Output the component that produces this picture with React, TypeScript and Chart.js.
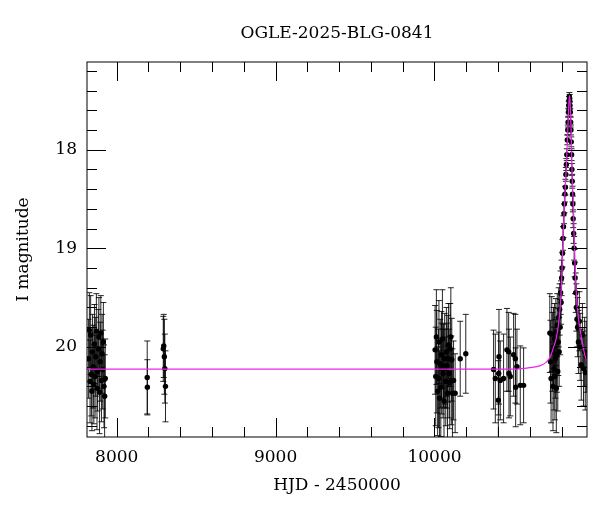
import React, { useEffect, useRef } from 'react';
import { Chart, registerables } from 'chart.js';

Chart.register(...registerables);

const TITLE = 'OGLE-2025-BLG-0841';
const X_TITLE = 'HJD - 2450000';
const Y_TITLE = 'I magnitude';

const X_MIN = 7813;
const X_MAX = 10960;
const Y_MIN = 17.11;
const Y_MAX = 20.914;

const X_MAJOR_TICKS = [8000, 9000, 10000];
const X_MINOR_STEP = 200;
const Y_MAJOR_TICKS = [18, 19, 20];
const Y_MINOR_STEP = 0.2;

// Observations: HJD - 2450000, I magnitude, error
const obsT = [
  7822, 7828, 7832, 7836, 7840, 7844, 7848, 7852, 7856, 7860, 7864, 7868, 7872, 7876, 7880, 7884, 7888, 7892, 7896, 7900, 7904, 7908, 7912, 7916, 7920, 7924, 7928,
  8192, 8193,
  8293, 8296, 8300, 8303, 8307,
  10004, 10008, 10012, 10015, 10020, 10025, 10028, 10032, 10036, 10040, 10044, 10046, 10050, 10054, 10057, 10060, 10064, 10067, 10071, 10075, 10078, 10082, 10085, 10088, 10092, 10096, 10099, 10103, 10106, 10109, 10113, 10120, 10130, 10162, 10197,
  10372, 10383, 10402, 10404, 10406, 10414, 10435, 10456, 10467, 10469, 10477, 10498, 10509, 10511, 10519, 10540, 10561,
  10726, 10730, 10734, 10738, 10742, 10746, 10749, 10752, 10755, 10758, 10761, 10764, 10767, 10770, 10773, 10776, 10779, 10782, 10785, 10788, 10791, 10794, 10797, 10800, 10803, 10806, 10809, 10812, 10815, 10818, 10821, 10824, 10827, 10830, 10833, 10836, 10839, 10841, 10843, 10845, 10847, 10849, 10851, 10853, 10855, 10857, 10859, 10861, 10863, 10865, 10867, 10869, 10871, 10873, 10876, 10879, 10882, 10885, 10889, 10893, 10897, 10901, 10906, 10912, 10917, 10924, 10931, 10938, 10945, 10949, 10955,
];
const obsMag = [
  20.12, 19.83, 20.35, 19.88, 20.28, 20.45, 20.05, 20.20, 20.38, 19.97, 20.30, 20.10, 19.84, 20.42, 20.25, 20.02, 19.90, 20.46, 20.15, 19.86, 20.34, 20.07, 20.23, 19.95, 20.40, 20.50, 20.32,
  20.31, 20.41,
  20.02, 19.99, 20.10, 20.22, 20.40,
  20.03, 20.30, 19.90, 20.15, 20.45, 20.32, 19.95, 20.52, 20.17, 20.41, 20.08, 20.22, 19.92, 20.27, 20.19, 20.55, 20.12, 20.22, 20.35, 20.05, 20.19, 20.47, 20.12, 19.98, 20.27, 20.36, 20.02, 19.90, 20.34, 20.13, 20.47, 20.34, 20.47, 20.12, 20.07,
  20.23, 20.32, 20.54, 20.27, 20.10, 20.34, 20.32, 20.03, 20.05, 20.27, 20.30, 20.08, 20.12, 20.41, 20.20, 20.39, 20.39,
  19.86, 20.15, 20.32, 19.87, 20.05, 20.40, 20.00, 20.22, 19.92, 20.30, 20.12, 19.85, 20.42, 20.08, 19.78, 20.25, 19.95, 19.70, 20.05, 19.62, 19.80, 19.45, 19.55, 19.30, 19.20, 19.05, 18.90, 18.78, 18.65, 18.55, 18.45, 18.38, 18.25, 18.15, 18.05, 17.90, 17.80, 17.72, 17.62, 17.55, 17.50, 17.46, 17.48, 17.55, 17.62, 17.72, 17.80, 17.92, 18.05, 18.20, 18.32, 18.45, 18.55, 18.70, 18.85, 19.00, 19.15, 19.30, 19.45, 19.60, 19.72, 19.80, 19.95, 19.74, 20.00, 20.18, 19.88, 20.22, 20.05, 20.26, 20.10,
];
const obsErr = [
  0.40, 0.38, 0.42, 0.40, 0.42, 0.40, 0.38, 0.42, 0.40, 0.40, 0.42, 0.40, 0.38, 0.42, 0.40, 0.40, 0.40, 0.42, 0.40, 0.38, 0.42, 0.40, 0.40, 0.40, 0.42, 0.42, 0.40,
  0.37, 0.28,
  0.33, 0.32, 0.38, 0.35, 0.36,
  0.45, 0.50, 0.48, 0.52, 0.45, 0.50, 0.42, 0.48, 0.45, 0.50, 0.44, 0.46, 0.50, 0.45, 0.42, 0.48, 0.46, 0.40, 0.45, 0.45, 0.43, 0.48, 0.44, 0.42, 0.45, 0.47, 0.46, 0.50, 0.45, 0.42, 0.45, 0.40, 0.40, 0.38, 0.40,
  0.40, 0.45, 0.40, 0.42, 0.48, 0.40, 0.45, 0.42, 0.40, 0.45, 0.40, 0.42, 0.45, 0.40, 0.38, 0.40, 0.38,
  0.40, 0.42, 0.45, 0.38, 0.40, 0.45, 0.40, 0.42, 0.36, 0.44, 0.40, 0.34, 0.45, 0.38, 0.32, 0.40, 0.34, 0.30, 0.35, 0.26, 0.28, 0.22, 0.22, 0.18, 0.16, 0.14, 0.12, 0.11, 0.10, 0.09, 0.08, 0.08, 0.07, 0.06, 0.06, 0.05, 0.05, 0.05, 0.04, 0.04, 0.04, 0.04, 0.04, 0.04, 0.04, 0.05, 0.05, 0.05, 0.06, 0.06, 0.07, 0.08, 0.08, 0.09, 0.10, 0.12, 0.14, 0.16, 0.20, 0.24, 0.28, 0.30, 0.32, 0.30, 0.34, 0.36, 0.32, 0.38, 0.35, 0.38, 0.36,
];

// Model curve
const modelT = [7813, 10500, 10600, 10666, 10700, 10729, 10750, 10765, 10780, 10791, 10800, 10806, 10812, 10818, 10826, 10833, 10839, 10844, 10847, 10850, 10853, 10856, 10860, 10864, 10868, 10875, 10880, 10888, 10897, 10907, 10917, 10930, 10949, 10960];
const modelMag = [20.226, 20.225, 20.21, 20.19, 20.16, 20.10, 20.00, 19.92, 19.78, 19.60, 19.35, 19.05, 18.80, 18.55, 18.30, 18.05, 17.80, 17.60, 17.50, 17.45, 17.50, 17.60, 17.80, 18.10, 18.35, 18.60, 18.95, 19.30, 19.56, 19.72, 19.83, 19.95, 20.10, 20.14];

const FONT_FAMILY = '"DejaVu Serif", serif';
const FONT_SIZE = 17;

const framePlugin = {
  id: 'framePlugin',
  beforeDatasetsDraw(chart: any) {
    const { ctx, chartArea: a, scales } = chart;
    const ys = scales.y;
    const meta = chart.getDatasetMeta(1);
    ctx.save();
    ctx.beginPath();
    ctx.rect(a.left, a.top, a.right - a.left, a.bottom - a.top);
    ctx.clip();
    ctx.strokeStyle = 'rgba(0,0,0,0.85)';
    ctx.lineWidth = 1;
    ctx.beginPath();
    meta.data.forEach((el: any, i: number) => {
      const px = el.x;
      const y1 = ys.getPixelForValue(obsMag[i] - obsErr[i]);
      const y2 = ys.getPixelForValue(obsMag[i] + obsErr[i]);
      ctx.moveTo(px, y1);
      ctx.lineTo(px, y2);
      ctx.moveTo(px - 3, y1);
      ctx.lineTo(px + 3, y1);
      ctx.moveTo(px - 3, y2);
      ctx.lineTo(px + 3, y2);
    });
    ctx.stroke();
    ctx.restore();
  },
  afterDatasetsDraw(chart: any) {
    const { ctx, chartArea: a, scales } = chart;
    const xs = scales.x;
    const ys = scales.y;
    ctx.save();
    ctx.strokeStyle = '#000';
    ctx.lineWidth = 1;
    ctx.strokeRect(a.left, a.top, a.right - a.left, a.bottom - a.top);
    ctx.beginPath();
    for (let v = Math.ceil(X_MIN / X_MINOR_STEP) * X_MINOR_STEP; v <= X_MAX; v += X_MINOR_STEP) {
      const len = X_MAJOR_TICKS.includes(v) ? 19 : 10;
      const px = Math.round(xs.getPixelForValue(v)) + 0.5;
      ctx.moveTo(px, a.bottom);
      ctx.lineTo(px, a.bottom - len);
      ctx.moveTo(px, a.top);
      ctx.lineTo(px, a.top + len);
    }
    const k0 = Math.ceil(Y_MIN / Y_MINOR_STEP - 1e-6);
    const k1 = Math.floor(Y_MAX / Y_MINOR_STEP + 1e-6);
    for (let k = k0; k <= k1; k++) {
      const v = k * Y_MINOR_STEP;
      const major = Y_MAJOR_TICKS.some((m) => Math.abs(m - v) < 1e-6);
      const len = major ? 19 : 10;
      const py = Math.round(ys.getPixelForValue(v)) + 0.5;
      ctx.moveTo(a.left, py);
      ctx.lineTo(a.left + len, py);
      ctx.moveTo(a.right, py);
      ctx.lineTo(a.right - len, py);
    }
    ctx.stroke();
    // title centred over the plot area
    ctx.fillStyle = '#000';
    ctx.font = `normal ${FONT_SIZE}px ${FONT_FAMILY}`;
    ctx.textAlign = 'center';
    ctx.textBaseline = 'middle';
    ctx.fillText(TITLE, (a.left + a.right) / 2, 34);
    ctx.restore();
  },
};

export default function App() {
  const canvasRef = useRef<HTMLCanvasElement | null>(null);

  useEffect(() => {
    document.body.style.margin = '0';
    const canvas = canvasRef.current;
    if (!canvas) return;
    const font = { family: FONT_FAMILY, size: FONT_SIZE, weight: 'normal' as const };
    const chart = new Chart(canvas, {
      type: 'scatter',
      data: {
        datasets: [
          {
            type: 'line',
            label: 'model',
            data: modelT.map((t, i) => ({ x: t, y: modelMag[i] })),
            borderColor: '#ee22ee',
            borderWidth: 1.2,
            pointRadius: 0,
            fill: false,
            cubicInterpolationMode: 'monotone',
            order: 0,
          } as any,
          {
            type: 'scatter',
            label: 'data',
            data: obsT.map((t, i) => ({ x: t, y: obsMag[i] })),
            backgroundColor: '#000',
            borderColor: '#000',
            borderWidth: 0,
            pointRadius: 2.7,
            order: 1,
          } as any,
        ],
      },
      options: {
        responsive: false,
        animation: false,
        devicePixelRatio: 1,
        layout: { padding: { left: 0, right: 13, top: 62, bottom: 0 } },
        plugins: {
          legend: { display: false },
          tooltip: { enabled: false },
          title: { display: false },
        },
        scales: {
          x: {
            type: 'linear',
            min: X_MIN,
            max: X_MAX,
            grid: { display: false, drawTicks: false },
            border: { display: false },
            afterBuildTicks: (s: any) => {
              s.ticks = X_MAJOR_TICKS.map((v) => ({ value: v }));
            },
            afterFit: (s: any) => {
              s.height = 75;
            },
            ticks: {
              color: '#000',
              font,
              padding: 10,
              maxRotation: 0,
              autoSkip: false,
              callback: (v: any) => String(v),
            },
            title: {
              display: true,
              text: X_TITLE,
              color: '#000',
              font,
              padding: { top: 0, bottom: 16 },
            },
          },
          y: {
            type: 'linear',
            reverse: true,
            min: Y_MIN,
            max: Y_MAX,
            grid: { display: false, drawTicks: false },
            border: { display: false },
            afterBuildTicks: (s: any) => {
              s.ticks = Y_MAJOR_TICKS.map((v) => ({ value: v }));
            },
            afterFit: (s: any) => {
              s.width = 87;
            },
            ticks: {
              color: '#000',
              font,
              padding: 10,
              autoSkip: false,
              callback: (v: any) => String(v),
            },
            title: {
              display: true,
              text: Y_TITLE,
              color: '#000',
              font,
              padding: { top: 13, bottom: 0 },
            },
          },
        },
      },
      plugins: [framePlugin],
    });
    return () => chart.destroy();
  }, []);

  return (
    <div style={{ width: 600, height: 512 }}>
      <canvas ref={canvasRef} width={600} height={512} style={{ width: 600, height: 512 }} />
    </div>
  );
}
